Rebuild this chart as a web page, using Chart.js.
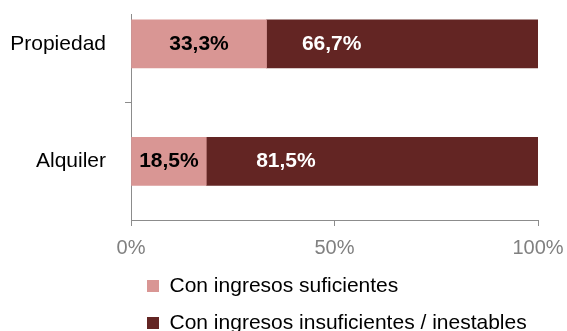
<!DOCTYPE html>
<html>
<head>
<meta charset="utf-8">
<script src="https://cdn.jsdelivr.net/npm/chart.js@4"></script>
<style>
  html, body { margin: 0; padding: 0; background: #fff; }
  #wrap { width: 567px; height: 331px; position: relative; }
</style>
</head>
<body>
<div id="wrap"><canvas id="chart"></canvas></div>
<script>
const categories = ['Propiedad', 'Alquiler'];
const seriesNames = ['Con ingresos suficientes', 'Con ingresos insuficientes / inestables'];
const suficientes = [33.3, 18.5];
const insuficientes = [66.7, 81.5];
const xTicks = [0, 50, 100];
const colors = ['#D99694', '#632523'];

Chart.defaults.font.family = 'Arial, "Liberation Sans", sans-serif';

// bars sit on a numeric index axis so the category band can start above the plot
const toPoints = vals => vals.map((v, i) => ({ x: v, y: i }));

const barLabels = {
  id: 'barLabels',
  afterDatasetsDraw(chart) {
    const ctx = chart.ctx;
    ctx.save();
    ctx.font = 'bold 21px Arial, "Liberation Sans", sans-serif';
    ctx.textAlign = 'center';
    ctx.textBaseline = 'middle';
    chart.data.datasets.forEach((ds, di) => {
      chart.getDatasetMeta(di).data.forEach((bar, i) => {
        const start = bar.base, end = bar.x;
        const x = di === 0 ? (start + end) / 2 : start + (end - start) * 0.24;
        ctx.fillStyle = di === 0 ? '#000' : '#fff';
        ctx.fillText(ds.data[i].x.toFixed(1).replace('.', ',') + '%', x, bar.y);
      });
    });
    ctx.restore();
  }
};

new Chart(document.getElementById('chart'), {
  type: 'bar',
  data: {
    datasets: [
      { label: seriesNames[0], data: toPoints(suficientes), backgroundColor: colors[0], grouped: false, barThickness: 48 },
      { label: seriesNames[1], data: toPoints(insuficientes), backgroundColor: colors[1], grouped: false, barThickness: 48 }
    ]
  },
  options: {
    indexAxis: 'y',
    responsive: true,
    maintainAspectRatio: false,
    animation: false,
    layout: { padding: { top: 14, right: 29, left: 0, bottom: -12.5 } },
    scales: {
      x: {
        type: 'linear',
        stacked: true,
        min: 0,
        max: 100,
        afterBuildTicks: s => { s.ticks = xTicks.map(v => ({ value: v })); },
        afterFit: s => { s.height = 39.5; s.paddingLeft = 0; s.paddingRight = 0; },
        ticks: {
          callback: v => v + '%',
          color: '#808080',
          font: { size: 20 },
          padding: 10,
          maxRotation: 0
        },
        grid: { drawOnChartArea: false, drawTicks: true, tickLength: 6, color: '#8c8c8c' },
        border: { display: true, color: '#8c8c8c', width: 1 }
      },
      y: {
        type: 'linear',
        reverse: true,
        offset: false,
        min: -0.255,
        max: 1.5,
        afterBuildTicks: s => { s.ticks = [0, 0.5, 1].map(v => ({ value: v })); },
        afterFit: s => { s.width = 131; s.paddingTop = 0; s.paddingBottom = 0; },
        ticks: {
          callback: v => (Number.isInteger(v) ? categories[v] : ''),
          color: '#000',
          font: { size: 21 },
          padding: 19
        },
        grid: {
          offset: false,
          drawOnChartArea: false,
          drawTicks: true,
          tickLength: 6,
          tickColor: c => (c.tick && c.tick.value === 0.5 ? '#8c8c8c' : 'rgba(0,0,0,0)')
        },
        border: { display: true, color: '#8c8c8c', width: 1 }
      }
    },
    plugins: {
      legend: {
        position: 'bottom',
        align: 'start',
        fullSize: false,
        labels: {
          boxWidth: 12,
          boxHeight: 12,
          padding: 16,
          color: '#000',
          font: { size: 21 }
        }
      },
      tooltip: { enabled: false }
    }
  },
  plugins: [barLabels]
});
</script>
</body>
</html>
